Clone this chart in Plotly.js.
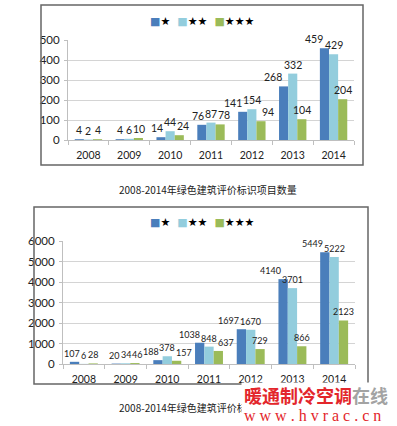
<!DOCTYPE html>
<html><head><meta charset="utf-8">
<script src="https://cdn.plot.ly/plotly-3.0.1.min.js"></script>
<style>html,body{margin:0;padding:0;background:#fff}#c{width:397px;height:426px}</style>
</head><body><div id="c"></div>
<script>
const years = ['2008','2009','2010','2011','2012','2013','2014'];
const seriesNames = ['★','★★','★★★'];
const projOne = [4,4,14,76,141,268,459];
const projTwo = [2,6,44,87,154,332,429];
const projThree = [4,10,24,78,94,104,204];
const areaOne = [107,20,188,1038,1697,4140,5449];
const areaTwo = [6,34,378,848,1670,3701,5222];
const areaThree = [28,46,157,637,729,866,2123];
const caption = '2008-2014年绿色建筑评价标识项目数量';
const colors = ['#4a7ebb','#93cddd','#9bbb59'];

const W=397,H=426;
const px=x=>x/W, py=y=>1-y/H;
const numFam='Lato, "Open Sans", sans-serif';
const BARGAP=0.33;

function mk(vals,i,xa,ya){
  return {type:'bar',x:years,y:vals,name:seriesNames[i],marker:{color:colors[i]},
    xaxis:xa,yaxis:ya,showlegend:false,hoverinfo:'none'};
}
const data=[
  mk(projOne,0,'x','y'),mk(projTwo,1,'x','y'),mk(projThree,2,'x','y'),
  mk(areaOne,0,'x2','y2'),mk(areaTwo,1,'x2','y2'),mk(areaThree,2,'x2','y2')
];
const dom1=[68,354], dom2=[63,355];
const ypx1=[140,40], ypx2=[364,241];
// value labels at each bar's data coordinates (category index, value); neighbours at similar height are nudged apart
function labels(seriesList,xr,yr,domPx,yPx,yMax,fsize){
  const barPx=(domPx[1]-domPx[0])/years.length*(1-BARGAP)/3;
  const digitW=fsize*0.58, hPx=fsize*1.25, scale=(yPx[0]-yPx[1])/yMax;
  const out=[];
  years.forEach((yr_,j)=>{
    const vals=seriesList.map(s=>s[j]);
    const w=vals.map(v=>String(v).length*digitW);
    const sh=[-barPx,0,barPx];
    [[0,1,-1],[1,2,1]].forEach(([a,b,dir])=>{
      if(Math.abs(vals[a]-vals[b])*scale<hPx){
        const need=(w[a]+w[b])/2-barPx+1;
        if(need>0){ if(dir<0) sh[a]-=need; else sh[b]+=need; }
      }
    });
    vals.forEach((v,i)=>{
      out.push({xref:xr,yref:yr,x:j,y:v,text:String(v),showarrow:false,xanchor:'center',yanchor:'bottom',
        xshift:sh[i],yshift:1,font:{family:numFam,size:fsize,color:'#222'}});
    });
  });
  return out;
}
const xa={type:'category',range:[-0.5,years.length-0.5],autorange:false,showgrid:false,showline:true,linecolor:'#bfbfbf',ticks:'outside',tickson:'boundaries',
  ticklen:4,tickcolor:'#bfbfbf',ticklabelstandoff:5,tickfont:{family:numFam,size:10.5,color:'#222'},fixedrange:true};
const ya={showgrid:true,gridcolor:'#d4d4d4',showline:true,linecolor:'#bfbfbf',zeroline:false,autorange:false,
  tickfont:{family:numFam,size:11.5,color:'#222'},ticks:'outside',ticklen:3,tickcolor:'#bfbfbf',ticklabelstandoff:2,fixedrange:true};
const legendText='<span style="color:'+colors[0]+'">■</span>'+seriesNames[0]+'  <span style="color:'+colors[1]+'">■</span>'+seriesNames[1]+
  '  <span style="color:'+colors[2]+'">■</span>'+seriesNames[2];
const legFont={family:'DejaVu Sans',size:11,color:'#000'};
const layout={
  width:W,height:H,margin:{l:0,r:0,t:0,b:0},paper_bgcolor:'#fff',plot_bgcolor:'#fff',
  barmode:'group',bargap:BARGAP,bargroupgap:0,showlegend:false,
  xaxis:Object.assign({},xa,{domain:[px(dom1[0]),px(dom1[1])],anchor:'y'}),
  yaxis:Object.assign({},ya,{domain:[py(ypx1[0]),py(ypx1[1])],range:[0,500],dtick:100,anchor:'x'}),
  xaxis2:Object.assign({},xa,{domain:[px(dom2[0]),px(dom2[1])],anchor:'y2'}),
  yaxis2:Object.assign({},ya,{domain:[py(ypx2[0]),py(ypx2[1])],range:[0,6000],dtick:1000,anchor:'x2'}),
  shapes:[
    {type:'rect',xref:'paper',yref:'paper',x0:px(41),x1:px(363),y0:py(165),y1:py(5),line:{color:'#666',width:1.5}},
    {type:'rect',xref:'paper',yref:'paper',x0:px(34),x1:px(368),y0:py(384),y1:py(207),line:{color:'#666',width:1.5}}
  ],
  annotations:[].concat(
    labels([projOne,projTwo,projThree],'x','y',dom1,ypx1,500,10.5),
    labels([areaOne,areaTwo,areaThree],'x2','y2',dom2,ypx2,6000,9),
  [
    {xref:'paper',yref:'paper',x:px(202),y:py(22),xanchor:'center',yanchor:'middle',showarrow:false,text:legendText,font:legFont},
    {xref:'paper',yref:'paper',x:px(202),y:py(222),xanchor:'center',yanchor:'middle',showarrow:false,text:legendText,font:legFont},
    {xref:'paper',yref:'paper',x:px(117),y:py(189),xanchor:'left',yanchor:'middle',showarrow:false,text:caption,
      font:{family:'"Noto Sans CJK SC", sans-serif',size:10,color:'#222'}},
    {xref:'paper',yref:'paper',x:px(117),y:py(407),xanchor:'left',yanchor:'middle',showarrow:false,text:caption,
      font:{family:'"Noto Sans CJK SC", sans-serif',size:10,color:'#222'}},
    {xref:'paper',yref:'paper',x:px(241),y:py(426),xanchor:'left',yanchor:'bottom',showarrow:false,
      bgcolor:'#fff',borderpad:0,width:156,height:42,text:' ',font:{size:10}},
    {xref:'paper',yref:'paper',x:px(242),y:py(395),xanchor:'left',yanchor:'middle',showarrow:false,
      text:'<b>暖通制冷空调</b><b><span style="color:#a3a3a3">在线</span></b>',
      font:{family:'"Noto Sans CJK SC", sans-serif',size:18,color:'#e3262b'}},
    {xref:'paper',yref:'paper',x:px(242),y:py(415),xanchor:'left',yanchor:'middle',showarrow:false,
      text:'w w w . h v r a c . c n',
      font:{family:'"Liberation Serif", serif',size:16,color:'#e3262b'}}
  ])
};
Plotly.newPlot('c',data,layout,{displayModeBar:false,staticPlot:true});
</script></body></html>
